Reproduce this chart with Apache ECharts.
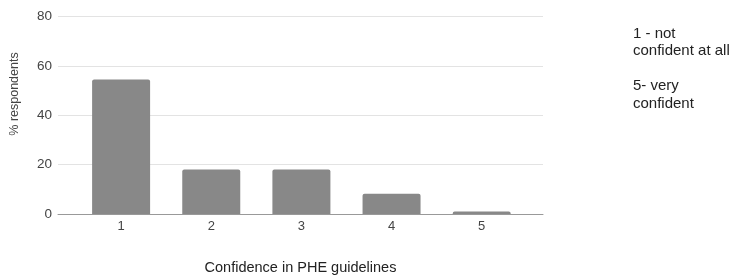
<!DOCTYPE html>
<html>
<head>
<meta charset="utf-8">
<script src="https://cdn.jsdelivr.net/npm/echarts@6/dist/echarts.min.js"></script>
<style>
  html, body {margin: 0; padding: 0; background: #fff;}
  #chart {width: 731px; height: 275px;}
</style>
</head>
<body>
<div id="chart"></div>
<script>
const categories = [1, 2, 3, 4, 5];
const pct_respondents = [54.5, 18, 18, 8.2, 1];
const y_ticks = [0, 20, 40, 60, 80];
const note_lines = ['1 - not', 'confident at all', '', '5- very', 'confident'];

const font = 'Liberation Sans, Arial, sans-serif';

let bar_data = categories.map((c, i) => [c, pct_respondents[i]]);

let option = {
    animation: false,
    grid: {left: 58, right: 188, top: 16.5, bottom: 61, outerBoundsMode: 'none', containLabel: false},
    title: {
        text: note_lines.join('\n'),
        left: 628, top: 20,
        textStyle: {fontFamily: font, fontSize: 15, fontWeight: 'normal', color: '#222', lineHeight: 17.5}
    },
    graphic: [{
        type: 'text', x: 15, y: 94, rotation: Math.PI / 2,
        style: {text: '% respondents', font: '12.5px ' + font, fill: '#444', align: 'center', verticalAlign: 'middle'}
    }],
    xAxis: {
        type: 'value', min: 0.3, max: 5.68,
        name: 'Confidence in PHE guidelines', nameLocation: 'middle', nameGap: 46,
        nameTextStyle: {fontFamily: font, fontSize: 14.5, color: '#222'},
        splitLine: {show: false},
        axisTick: {show: false},
        axisLine: {show: true, lineStyle: {color: '#999', width: 1}},
        axisLabel: {customValues: categories, fontFamily: font, fontSize: 13, color: '#444', margin: 6}
    },
    yAxis: {
        type: 'value', min: y_ticks[0], max: y_ticks[y_ticks.length - 1], interval: 20,
        axisLine: {show: false}, axisTick: {show: false},
        axisLabel: {fontFamily: font, fontSize: 13.5, color: '#444', margin: 6},
        splitLine: {lineStyle: {color: '#e3e3e3', width: 1}}
    },
    series: [{
        type: 'bar', data: bar_data, barWidth: 58,
        itemStyle: {color: '#888888', borderRadius: [2, 2, 0, 0]}
    }]
};

let my_chart = echarts.init(document.getElementById('chart'));
my_chart.setOption(option);
</script>
</body>
</html>
